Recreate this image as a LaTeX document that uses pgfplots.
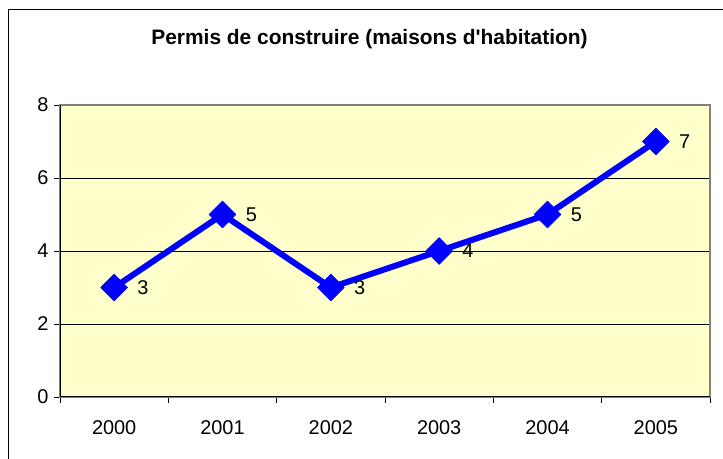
\documentclass[border=0pt]{standalone}
\usepackage{pgfplots}
\pgfplotsset{compat=1.18}
\usepackage{fontspec}
\setmainfont{Liberation Sans}
\definecolor{plotbg}{RGB}{255,255,204}
\definecolor{lineblue}{RGB}{0,0,255}
\begin{document}
\begin{tikzpicture}[x=1bp,y=1bp]
\useasboundingbox (0,0) rectangle (723,459);
\clip (0,0) rectangle (723,459);
\fill[white] (0,0) rectangle (723,459);
\draw[line width=1bp, black] (8,-20) -- (8,449) -- (740,449);
\node[font=\fontsize{21}{24}\selectfont\bfseries, anchor=base, inner sep=0pt] at (369.5,414) {Permis de construire (maisons d\textquotesingle habitation)};
\begin{axis}[
  at={(60bp,62bp)}, anchor=south west, scale only axis,
  width=650bp, height=292bp,
  xmin=-0.5, xmax=5.5, ymin=0, ymax=8,
  ytick={0,2,4,6,8},
  xtick={-0.5,0.5,...,5.5},
  xticklabels={2000,2001,2002,2003,2004,2005},
  x tick label as interval,
  tick pos=left,
  tick align=outside,
  major tick length=6bp,
  tick style={black, line width=0.8bp},
  ymajorgrids,
  grid style={black, line width=0.8bp},
  axis line style={draw={rgb,255:red,128;green,128;blue,128}, line width=1.6bp},
  axis background/.style={fill=plotbg},
  tick label style={font=\fontsize{20}{24}\selectfont},
  xticklabel style={yshift=-14bp},
  yticklabel style={xshift=-2bp},
  /pgf/number format/assume math mode=true,
]
\addplot[color=lineblue, line width=6bp, line join=round,
  mark=square*, mark size=9.5bp, mark options={rotate=45, solid, line width=0.5bp},
  nodes near coords,
  nodes near coords style={anchor=west, xshift=23bp, inner sep=0pt, text=black, font=\fontsize{20}{24}\selectfont}]
  coordinates {(0,3)(1,5)(2,3)(3,4)(4,5)(5,7)};
\draw[black, line width=1.4bp] (rel axis cs:0,1) -- (rel axis cs:0,0) -- (rel axis cs:1,0);
\end{axis}
\end{tikzpicture}
\end{document}
